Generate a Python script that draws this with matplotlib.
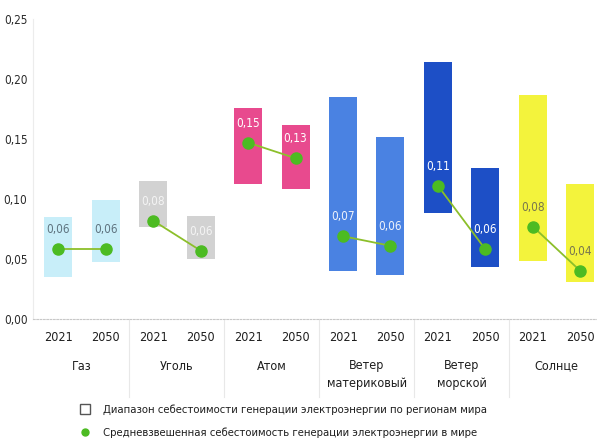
import matplotlib
matplotlib.use("Agg")
import matplotlib.pyplot as plt
from matplotlib.lines import Line2D
import matplotlib.transforms as mtransforms

plt.rcParams['font.family'] = ['DejaVu Sans']
plt.rcParams['font.stretch'] = 'condensed'

groups = ['Газ', 'Уголь', 'Атом', 'Ветер\nматериковый', 'Ветер\nморской', 'Солнце']
years = ['2021', '2050']

# cost range per region (low / high) and weighted world average, by bar
range_low = [0.035, 0.0475, 0.077, 0.050, 0.1125, 0.108, 0.040, 0.0365, 0.088, 0.043, 0.048, 0.031]
range_high = [0.085, 0.099, 0.115, 0.086, 0.176, 0.162, 0.185, 0.152, 0.214, 0.126, 0.187, 0.1125]
average = [0.058, 0.058, 0.082, 0.057, 0.147, 0.134, 0.069, 0.061, 0.111, 0.058, 0.077, 0.040]

group_colors = ['#c8eef9', '#d2d2d2', '#e84a8e', '#4a82e2', '#1d4fc6', '#f3f33c']
label_colors = ['#5f7480', '#f4f4f4', '#ffffff', '#eef2fb', '#ffffff', '#77764e']

legend_labels = ['Диапазон себестоимости генерации электроэнергии по регионам мира',
                 'Средневзвешенная себестоимость генерации электроэнергии в мире']


def main():
	fig = plt.figure(figsize=(5.97, 4.40), dpi=100)
	ax = fig.add_axes([33 / 597, 1 - 319 / 440, 1 - 33 / 597, 300 / 440])

	n = len(average)
	xs = list(range(n))
	for i in xs:
		g = i // 2
		ax.bar(i, range_high[i] - range_low[i], bottom=range_low[i], width=0.59,
			color=group_colors[g], zorder=2)
		ax.annotate(('%.2f' % average[i]).replace('.', ','), (i, average[i]),
			xytext=(0, 14), textcoords='offset points', ha='center', va='center',
			fontsize=8.5, color=label_colors[g], zorder=5)

	# connect 2021 and 2050 averages within each group
	for g in range(len(groups)):
		ax.plot([2 * g, 2 * g + 1], [average[2 * g], average[2 * g + 1]],
			color='#8cbf2a', lw=1.3, zorder=3)
	ax.plot(xs, average, ls='none', marker='o', ms=8, color='#4cbb22', zorder=4)

	ax.set_xlim(-0.53, 11.35)
	ax.set_ylim(0, 0.25)
	ticks = [0, 0.05, 0.10, 0.15, 0.20, 0.25]
	ax.set_yticks(ticks)
	ax.set_yticklabels([('%.2f' % t).replace('.', ',') for t in ticks], fontsize=8.5, color='#2a2a2a')
	ax.tick_params(axis='y', length=0, pad=4)
	ax.set_xticks([])

	for s in ['top', 'right']:
		ax.spines[s].set_visible(False)
	ax.spines['left'].set_color('#ececec')
	ax.spines['bottom'].set_color('#c8c8c8')
	ax.spines['bottom'].set_linestyle((0, (1.5, 1.5)))

	trans = mtransforms.blended_transform_factory(ax.transData, ax.transAxes)
	for i in xs:
		ax.text(i, -0.062, years[i % 2], transform=trans, ha='center', va='center',
			fontsize=9, color='#1e1e1e')
	for g, name in enumerate(groups):
		ax.text(2 * g + 0.5, -0.135, name, transform=trans, ha='center', va='top',
			fontsize=9, color='#1e1e1e', linespacing=1.45)
	for xb in [1.5, 3.5, 5.5, 7.5, 9.5]:
		ax.plot([xb, xb], [0, -0.26], transform=trans, color='#e8e8e8', lw=0.8, clip_on=False)

	handles = [Line2D([], [], marker='s', ls='none', ms=7, mfc='white', mec='#555555', mew=1.0),
			   Line2D([], [], marker='o', ls='none', ms=5, color='#4cbb22')]
	fig.legend(handles, legend_labels, loc='upper left', bbox_to_anchor=(68 / 597, 1 - 394 / 440),
		frameon=False, fontsize=8.1, labelspacing=1.12, handletextpad=1.0, handlelength=1.2,
		labelcolor='#1e1e1e')

	fig.savefig('out.png', dpi=100)


if __name__ == "__main__":
	main()
